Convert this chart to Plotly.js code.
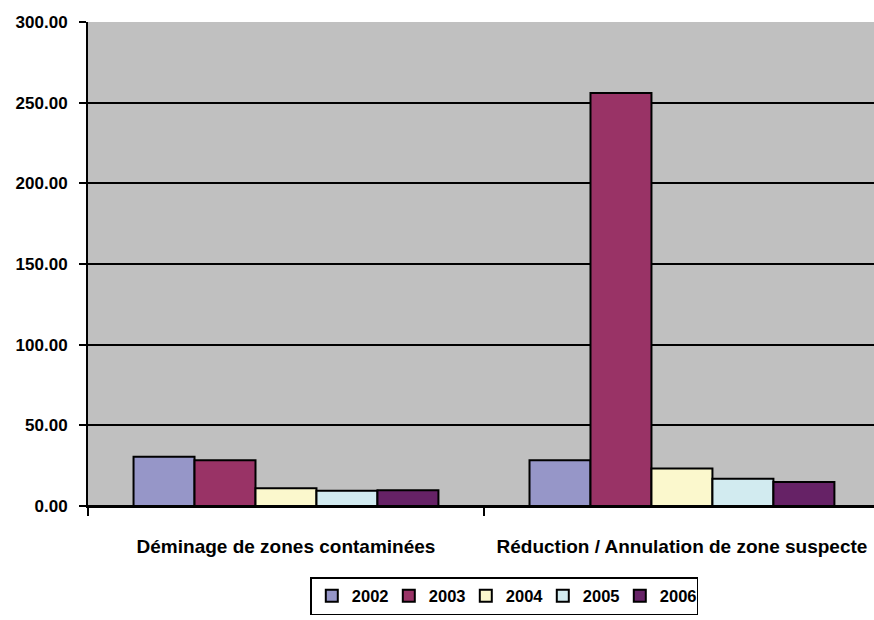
<!DOCTYPE html>
<html>
<head>
<meta charset="utf-8">
<script src="https://cdn.plot.ly/plotly-3.0.1.min.js"></script>
<style>html,body{margin:0;padding:0;background:#fff;}#chart{width:874px;height:620px;}</style>
</head>
<body>
<div id="chart"></div>
<script>
var categories = ["Déminage de zones contaminées", "Réduction / Annulation de zone suspecte"];
var years = ["2002", "2003", "2004", "2005", "2006"];
var v2002 = [30.5, 28.3];
var v2003 = [28.3, 256.0];
var v2004 = [11.0, 23.3];
var v2005 = [9.5, 16.9];
var v2006 = [9.7, 14.9];
var yTicks = [0, 50, 100, 150, 200, 250, 300];

var series = [v2002, v2003, v2004, v2005, v2006];
var colors = ["#9696c8", "#993366", "#fbf8cd", "#d2ebf0", "#662266"];
var FONT = "'Liberation Sans', Arial, sans-serif";

var data = series.map(function (vals, i) {
  return {
    type: "bar",
    name: years[i],
    x: categories,
    y: vals,
    marker: { color: colors[i], line: { color: "#000", width: 2 } },
    hoverinfo: "x+y+name"
  };
});

var layout = {
  width: 874, height: 620,
  margin: { l: 88, r: 0, t: 22, b: 114, pad: 0 },
  paper_bgcolor: "#ffffff",
  plot_bgcolor: "#c0c0c0",
  barmode: "group",
  bargap: 0.23,
  bargroupgap: 0,
  showlegend: true,
  font: { family: FONT, color: "#000" },
  xaxis: {
    type: "category",
    range: [-0.5, 1.485],
    tickson: "boundaries",
    tickangle: 0,
    ticks: "outside", ticklen: 8, tickwidth: 1.5, tickcolor: "#000",
    ticklabelstandoff: 22,
    showline: true, linecolor: "#000", linewidth: 1.5,
    showgrid: false, zeroline: false,
    tickfont: { family: FONT, size: 19, color: "#000", weight: "bold" }
  },
  yaxis: {
    range: [0, 300],
    tickvals: yTicks,
    tickformat: ".2f",
    ticks: "outside", ticklen: 7, tickwidth: 1.5, tickcolor: "#000",
    ticklabelstandoff: 8,
    showline: true, linecolor: "#000", linewidth: 2,
    showgrid: true, gridcolor: "#000", gridwidth: 1.5,
    zeroline: true, zerolinecolor: "#000", zerolinewidth: 1.5,
    tickfont: { family: FONT, size: 17, color: "#000", weight: "bold" }
  },
  legend: {
    orientation: "h",
    xref: "container", yref: "container",
    x: 0.577, xanchor: "center",
    y: 1 - 577 / 620, yanchor: "top",
    bgcolor: "#ffffff",
    bordercolor: "#000", borderwidth: 1.5,
    itemwidth: 30,
    entrywidth: 32, entrywidthmode: "pixels",
    font: { family: FONT, size: 16.5, color: "#000", weight: "bold" },
    traceorder: "normal"
  }
};

Plotly.newPlot("chart", data, layout, { displayModeBar: false });
</script>
</body>
</html>
